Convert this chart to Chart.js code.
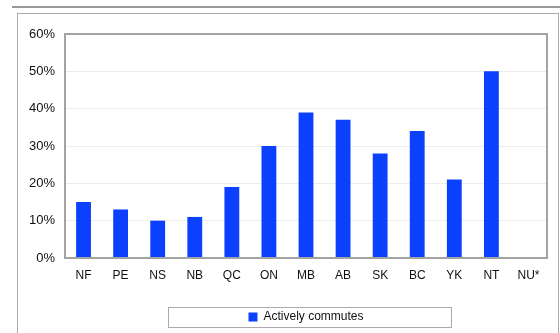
<!DOCTYPE html>
<html>
<head>
<meta charset="utf-8">
<script src="https://cdn.jsdelivr.net/npm/chart.js@4"></script>
<style>
  html, body { margin: 0; padding: 0; background: #fff; overflow: hidden; }
  body { width: 560px; height: 333px; position: relative; }
  .topline { position: absolute; left: 12px; top: 6px; width: 548px; height: 2px; background: #999; }
  .frame { position: absolute; left: 17px; top: 13px; width: 540px; height: 340px; border: 1px solid #aaa; }
  .wrap { position: absolute; left: 0; top: 0; width: 560px; height: 333px; }
</style>
</head>
<body>
<div class="topline"></div>
<div class="frame"></div>
<div class="wrap"><canvas id="commuteChart"></canvas></div>
<script>
const provinces = ['NF', 'PE', 'NS', 'NB', 'QC', 'ON', 'MB', 'AB', 'SK', 'BC', 'YK', 'NT', 'NU*'];
const activeShare = [15, 13, 10, 11, 19, 30, 39, 37, 28, 34, 21, 50, null];
const yTicks = [0, 10, 20, 30, 40, 50, 60];

const fontFamily = '"Liberation Sans", Arial, Helvetica, sans-serif';

// box around the plot area and around the legend
const frames = {
    id: 'frames',
    afterDraw(chart) {
        const ctx = chart.ctx;
        const a = chart.chartArea;
        ctx.save();
        ctx.strokeStyle = '#a3a3a3';
        ctx.lineWidth = 2;
        ctx.strokeRect(a.left, a.top, a.right - a.left, a.bottom - a.top);

        const hit = chart.legend.legendHitBoxes[0];
        if (hit) {
            const cx = hit.left + hit.width / 2 + 3;
            const cy = hit.top + hit.height / 2;
            ctx.strokeStyle = '#aaa';
            ctx.lineWidth = 1;
            ctx.strokeRect(Math.round(cx - 141) + 0.5, Math.round(cy - 10) + 0.5, 283, 20);
        }
        ctx.restore();
    }
};

const ctx = document.getElementById('commuteChart').getContext('2d');
new Chart(ctx, {
    type: 'bar',
    data: {
        labels: provinces,
        datasets: [{
            label: 'Actively commutes',
            data: activeShare,
            backgroundColor: '#0b40ff',
            borderWidth: 0,
            barPercentage: 0.8,
            categoryPercentage: 0.5
        }]
    },
    options: {
        responsive: true,
        maintainAspectRatio: false,
        animation: false,
        layout: {
            padding: { left: 15, right: 13, top: 34, bottom: 0 }
        },
        plugins: {
            legend: {
                position: 'bottom',
                fullSize: false,
                labels: {
                    boxWidth: 9,
                    boxHeight: 9,
                    padding: 6,
                    color: '#111',
                    font: { family: fontFamily, size: 12 }
                }
            },
            tooltip: { enabled: false }
        },
        scales: {
            x: {
                grid: { display: false, drawTicks: false },
                border: { display: false },
                ticks: {
                    padding: 10,
                    color: '#111',
                    font: { family: fontFamily, size: 12 },
                    maxRotation: 0
                },
                afterFit(scale) { scale.height = 47; }
            },
            y: {
                min: 0,
                max: 60,
                afterBuildTicks(scale) {
                    scale.ticks = yTicks.map(v => ({ value: v }));
                },
                grid: { color: '#ececec', drawTicks: false },
                border: { display: false },
                ticks: {
                    padding: 10,
                    color: '#111',
                    font: { family: fontFamily, size: 13 },
                    callback: v => v + '%'
                },
                afterFit(scale) { scale.width = 50; }
            }
        }
    },
    plugins: [frames]
});
</script>
</body>
</html>
